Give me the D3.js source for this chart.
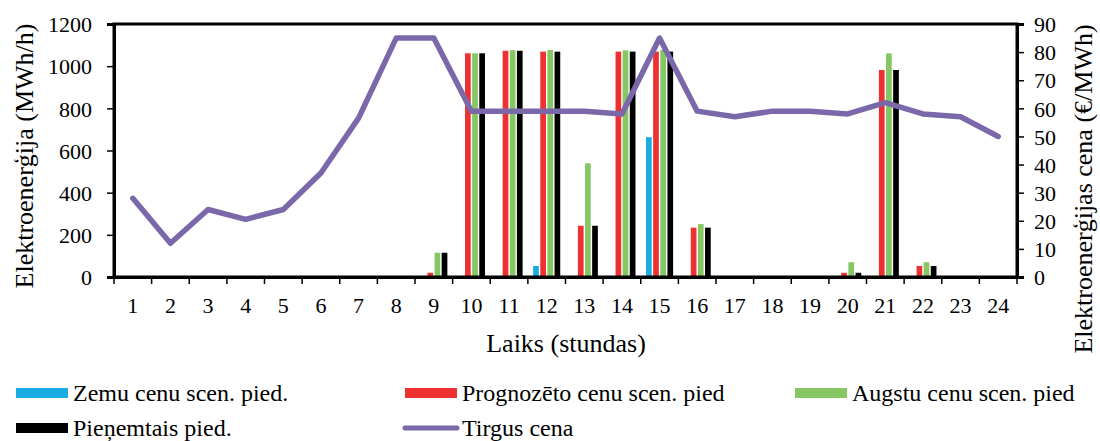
<!DOCTYPE html>
<html>
<head>
<meta charset="utf-8">
<script src="https://cdn.jsdelivr.net/npm/d3@7"></script>
<style>
  body { margin: 0; background: #fff; }
  svg text { font-family: "Liberation Serif", "Times New Roman", serif; fill: #000; }
</style>
</head>
<body>
<svg id="chart" width="1100" height="441" font-family="Liberation Serif, Times New Roman, serif"></svg>
<script>
// Hours of the day
const hours = d3.range(1, 25).map(String);

// Bid volumes per scenario (MWh/h)
const lowPriceBid      = [0,0,0,0,0,0,0,0,0,0,0,52,0,0,663,0,0,0,0,0,0,0,0,0];
const forecastPriceBid = [0,0,0,0,0,0,0,0,20,1061,1073,1069,243,1069,1069,234,0,0,0,20,982,52,0,0];
const highPriceBid     = [0,0,0,0,0,0,0,0,115,1061,1076,1077,539,1075,1077,251,0,0,0,70,1061,70,0,0];
const acceptedBid      = [0,0,0,0,0,0,0,0,115,1061,1073,1069,243,1069,1069,234,0,0,0,20,982,52,0,0];

// Market price (€/MWh)
const marketPrice = [28,12,24,20.5,24,37,56.5,85,85,59,59,59,59,58,85,59,57,59,59,58,62,58,57,50];

const leftTicks  = [0,200,400,600,800,1000,1200];
const rightTicks = [0,10,20,30,40,50,60,70,80,90];

const seriesNames  = ["Zemu cenu scen. pied.", "Prognozēto cenu scen. pied", "Augstu cenu scen. pied", "Pieņemtais pied."];
const seriesValues = [lowPriceBid, forecastPriceBid, highPriceBid, acceptedBid];
const seriesColors = ["#1AADE4", "#EE3030", "#86C663", "#000000"];
const lineName  = "Tirgus cena";
const lineColor = "#7B68AA";

const FONT = "Liberation Serif, Times New Roman, serif";
const svg = d3.select("#chart");
const plot = { left: 114, right: 1017, top: 24, bottom: 277 };

const x = d3.scaleBand().domain(hours).range([plot.left, plot.right]).paddingInner(0.28).paddingOuter(0.14);
const xc = d3.scaleBand().domain(hours).range([plot.left, plot.right]).padding(0);
const xs = d3.scaleBand().domain(d3.range(4)).range([0, x.bandwidth()]).paddingInner(0.2);
const yL = d3.scaleLinear().domain([0, 1200]).range([plot.bottom, plot.top]);
const yR = d3.scaleLinear().domain([0, 90]).range([plot.bottom, plot.top]);

// Bars
seriesValues.forEach((vals, si) => {
  svg.append("g").selectAll("rect")
    .data(vals.map((v, i) => ({ h: hours[i], v })).filter(d => d.v > 0))
    .join("rect")
    .attr("x", d => x(d.h) + xs(si))
    .attr("width", xs.bandwidth())
    .attr("y", d => yL(d.v))
    .attr("height", d => yL(0) - yL(d.v))
    .attr("fill", seriesColors[si]);
});

// Price line
svg.append("path")
  .datum(marketPrice)
  .attr("fill", "none")
  .attr("stroke", lineColor)
  .attr("stroke-width", 5.5)
  .attr("stroke-linejoin", "round")
  .attr("stroke-linecap", "round")
  .attr("d", d3.line().x((d, i) => xc(hours[i]) + xc.bandwidth() / 2).y(d => yR(d)));

// Frame
svg.append("rect")
  .attr("x", plot.left).attr("y", plot.top)
  .attr("width", plot.right - plot.left).attr("height", plot.bottom - plot.top)
  .attr("fill", "none").attr("stroke", "#000").attr("stroke-width", 3);

// Left axis
const gL = svg.append("g").attr("transform", `translate(${plot.left},0)`)
  .call(d3.axisLeft(yL).tickValues(leftTicks).tickFormat(d3.format("d")).tickSize(7).tickPadding(15));
gL.attr("font-family", FONT);
gL.select(".domain").attr("stroke-width", 3);
gL.selectAll(".tick line").attr("stroke-width", 1.5);
gL.selectAll("text").attr("font-size", 22).attr("font-family", FONT).attr("dy", "0.35em");

// Right axis
const gR = svg.append("g").attr("transform", `translate(${plot.right},0)`)
  .call(d3.axisRight(yR).tickValues(rightTicks).tickFormat(d3.format("d")).tickSize(7).tickPadding(10));
gR.attr("font-family", FONT);
gR.select(".domain").attr("stroke-width", 3);
gR.selectAll(".tick line").attr("stroke-width", 1.5);
gR.selectAll("text").attr("font-size", 22).attr("font-family", FONT).attr("dy", "0.35em");

// Bottom axis: ticks at category boundaries, labels at centres
const gB = svg.append("g").attr("transform", `translate(0,${plot.bottom})`)
  .call(d3.axisBottom(xc).tickSize(0).tickPadding(20));
gB.attr("font-family", FONT);
gB.select(".domain").attr("stroke-width", 3);
gB.selectAll("text").attr("font-size", 22).attr("font-family", FONT);
svg.append("g").selectAll("line")
  .data(d3.range(0, 25))
  .join("line")
  .attr("x1", i => plot.left + i * xc.step()).attr("x2", i => plot.left + i * xc.step())
  .attr("y1", plot.bottom).attr("y2", plot.bottom + 7)
  .attr("stroke", "#000").attr("stroke-width", 1.5);

// Axis titles
svg.append("text").attr("transform", "translate(33,156) rotate(-90)")
  .attr("text-anchor", "middle").attr("font-size", 26).attr("font-family", FONT).text("Elektroenerģija (MWh/h)");
svg.append("text").attr("transform", "translate(1092,189) rotate(-90)")
  .attr("text-anchor", "middle").attr("font-size", 26).attr("font-family", FONT).text("Elektroenerģijas cena (€/MWh)");
svg.append("text").attr("x", 566).attr("y", 352)
  .attr("text-anchor", "middle").attr("font-size", 26).attr("font-family", FONT).text("Laiks (stundas)");

// Legend
const legendItems = [
  { name: seriesNames[0], color: seriesColors[0], x: 16,  y: 393, type: "rect" },
  { name: seriesNames[1], color: seriesColors[1], x: 405, y: 393, type: "rect" },
  { name: seriesNames[2], color: seriesColors[2], x: 795, y: 393, type: "rect" },
  { name: seriesNames[3], color: seriesColors[3], x: 16,  y: 428, type: "rect" },
  { name: lineName,       color: lineColor,       x: 405, y: 428, type: "line" }
];
const lg = svg.append("g").selectAll("g").data(legendItems).join("g")
  .attr("transform", d => `translate(${d.x},${d.y})`);
lg.filter(d => d.type === "rect").append("rect")
  .attr("x", 0).attr("y", -5).attr("width", 52).attr("height", 10).attr("fill", d => d.color);
lg.filter(d => d.type === "line").append("line")
  .attr("x1", 0).attr("x2", 52).attr("y1", 0).attr("y2", 0)
  .attr("stroke", d => d.color).attr("stroke-width", 5).attr("stroke-linecap", "round");
lg.append("text").attr("x", 57).attr("y", 8).attr("font-size", 24).attr("font-family", FONT).text(d => d.name);
</script>
</body>
</html>
